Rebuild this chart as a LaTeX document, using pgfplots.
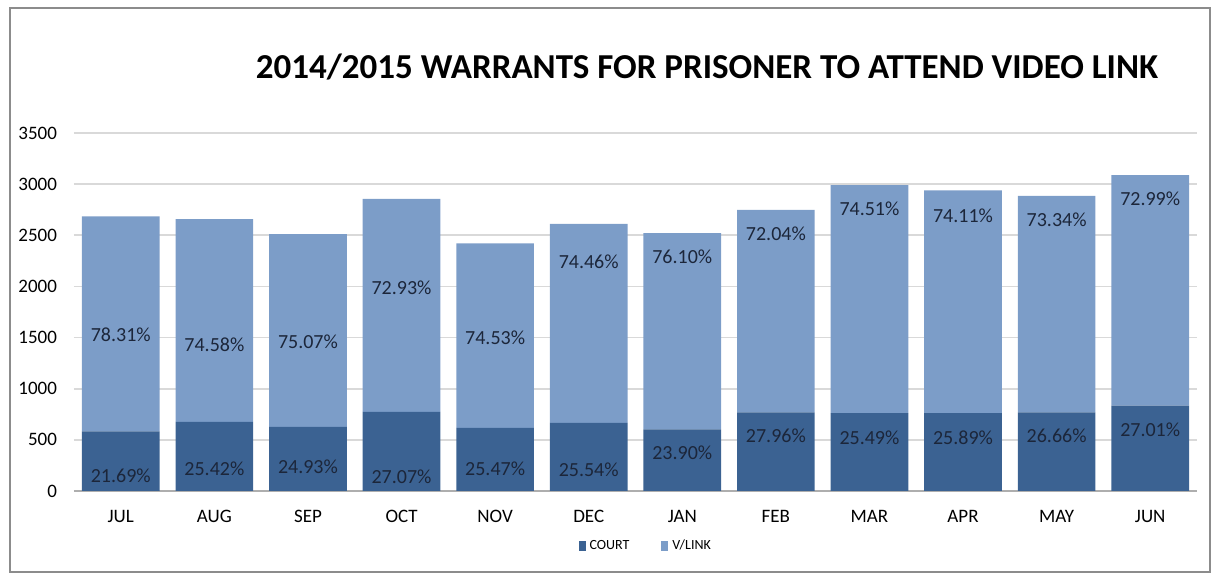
\documentclass[border=0pt]{standalone}
\usepackage{fontspec}
\setmainfont{Carlito}
\usepackage{pgfplots}
\usepackage{pgfplotstable}
\pgfplotsset{compat=1.18}
\definecolor{court}{RGB}{59,98,146}
\definecolor{vlink}{RGB}{124,157,200}
\definecolor{lbl}{RGB}{28,38,58}
\definecolor{gridc}{RGB}{217,217,217}

\pgfplotstableread{
x month court vlink
0 JUL 582 2102
1 AUG 676 1982
2 SEP 626 1886
3 OCT 773 2084
4 NOV 616 1804
5 DEC 667 1945
6 JAN 603 1918
7 FEB 769 1980
8 MAR 762 2229
9 APR 761 2177
10 MAY 769 2117
11 JUN 834 2255
}\datatable

\pgfplotstableread{
x y label
0 1526 78.31\%
1 1429 74.58\%
2 1461 75.07\%
3 1983 72.93\%
4 1494 74.53\%
5 2244 74.46\%
6 2293 76.10\%
7 2512 72.04\%
8 2756 74.51\%
9 2694 74.11\%
10 2652 73.34\%
11 2854 72.99\%
0 147 21.69\%
1 222 25.42\%
2 238 24.93\%
3 140 27.07\%
4 222 25.47\%
5 205 25.54\%
6 369 23.90\%
7 538 27.96\%
8 516 25.49\%
9 516 25.89\%
10 538 26.66\%
11 597 27.01\%
}\labeltable

\begin{document}
\begin{tikzpicture}
\useasboundingbox (0,0) rectangle (607pt,288.5pt);
\draw[color=black!45, line width=0.8pt] (5pt,2.5pt) rectangle (605pt,284.5pt);
\node[font=\fontsize{17.5}{20}\selectfont\bfseries, anchor=center] at (353.5pt,255pt) {2014/2015 WARRANTS FOR PRISONER TO ATTEND VIDEO LINK};
\begin{axis}[
  at={(37pt,43pt)}, anchor=south west,
  scale only axis, width=561.5pt, height=179pt,
  ybar stacked, bar width=0.83,
  xmin=-0.5, xmax=11.5, ymin=0, ymax=3500,
  ytick={0,500,...,3500},
  xtick=data,
  xticklabels={JUL,AUG,SEP,OCT,NOV,DEC,JAN,FEB,MAR,APR,MAY,JUN},
  major tick length=0pt,
  axis x line*=bottom, axis y line*=left,
  x axis line style={draw=gridc!80!black, line width=0.8pt, -},
  y axis line style={draw=none},
  ymajorgrids, grid style={gridc, line width=0.8pt},
  yticklabel style={font=\fontsize{9.5}{11}\selectfont, xshift=-5pt},
  xticklabel style={font=\fontsize{9.5}{11}\selectfont, yshift=-6pt},
  /pgf/number format/assume math mode=true,
  /pgf/number format/1000 sep={},
  scaled y ticks=false,
  legend style={at={(0.51,-0.155)}, anchor=center, draw=none, font=\fontsize{7}{8}\selectfont, legend columns=2, /tikz/every even column/.append style={column sep=14pt}},
  legend image code/.code={\fill[#1] (0pt,-2.5pt) rectangle (3.5pt,2.5pt);},
]
\addplot[fill=court, draw=none] table[x=x, y=court] {\datatable};
\addplot[fill=vlink, draw=none] table[x=x, y=vlink] {\datatable};
\legend{COURT, V/LINK}
\end{axis}
\begin{axis}[
  at={(37pt,43pt)}, anchor=south west,
  scale only axis, width=561.5pt, height=179pt,
  xmin=-0.5, xmax=11.5, ymin=0, ymax=3500,
  hide axis,
]
\addplot[only marks, mark=none, nodes near coords, point meta=explicit symbolic,
  nodes near coords style={anchor=center, font=\fontsize{10}{12}\selectfont, text=lbl}]
  table[x=x, y=y, meta=label] {\labeltable};
\end{axis}
\end{tikzpicture}
\end{document}
